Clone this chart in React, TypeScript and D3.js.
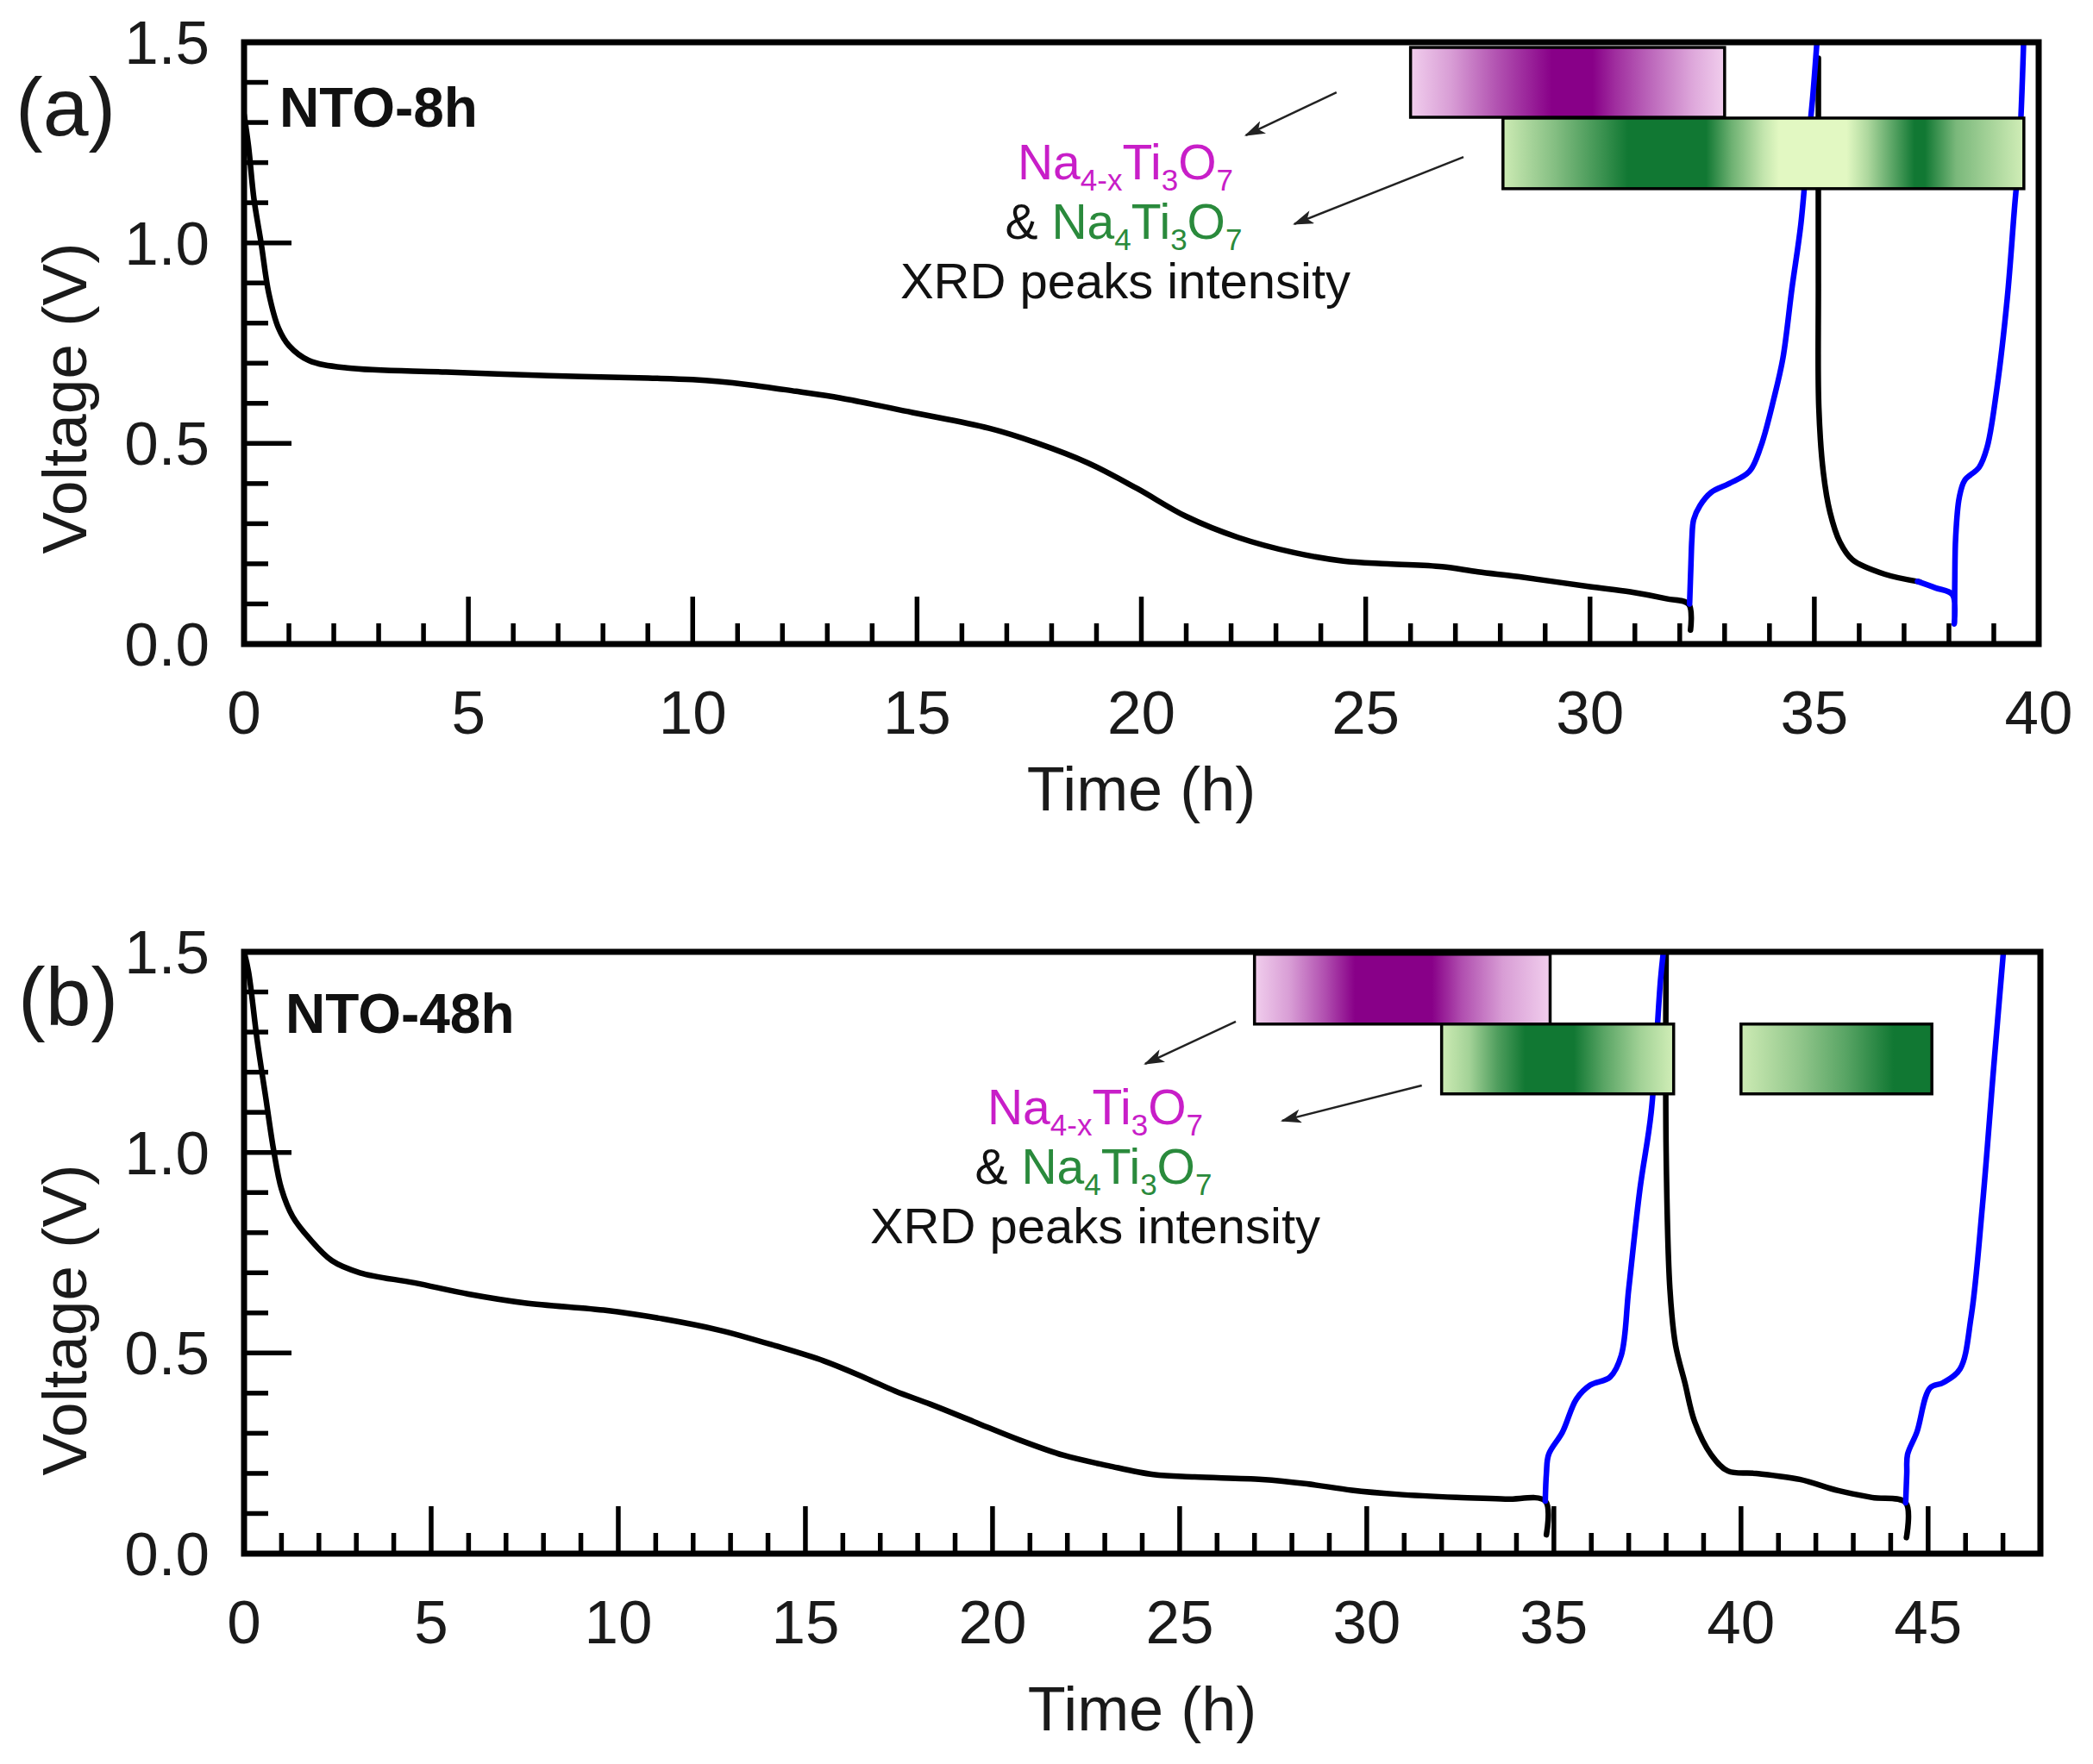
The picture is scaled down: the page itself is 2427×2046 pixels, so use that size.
import React from 'react';
import * as d3 from 'd3';

type Pt = [number, number];

// ---------- Panel (a) NTO-8h : time (h), voltage (V) ----------
const a_discharge1: Pt[] = [
  [0, 1.32], [0.1, 1.24], [0.22, 1.11], [0.38, 1.0], [0.55, 0.875], [0.77, 0.787], [1.0, 0.744],
  [1.44, 0.707], [2.3, 0.688], [4.5, 0.678], [6.8, 0.669], [9.0, 0.663], [10.0, 0.659],
  [11.2, 0.647], [12.3, 0.63], [13.3, 0.613], [14.9, 0.577], [16.6, 0.538], [17.7, 0.5],
  [18.8, 0.452], [19.9, 0.388], [21.0, 0.318], [22.15, 0.266], [23.4, 0.228], [24.5, 0.207],
  [25.5, 0.2], [26.7, 0.193], [27.5, 0.18], [28.4, 0.168], [30.0, 0.143], [30.9, 0.13],
  [31.7, 0.113], [32.2, 0.099], [32.24, 0.035],
];
const a_charge1: Pt[] = [
  [32.22, 0.1], [32.25, 0.2], [32.27, 0.26], [32.31, 0.31], [32.45, 0.345], [32.7, 0.378],
  [33.1, 0.4], [33.55, 0.43], [33.8, 0.49], [34.1, 0.613], [34.3, 0.713], [34.5, 0.886],
  [34.7, 1.047], [34.85, 1.234], [34.96, 1.358], [35.07, 1.52],
];
const a_discharge2: Pt[] = [
  [35.09, 1.46], [35.09, 0.9], [35.1, 0.589], [35.2, 0.428], [35.35, 0.328], [35.57, 0.254],
  [35.85, 0.21], [36.57, 0.174], [37.35, 0.155],
];
const a_charge2: Pt[] = [
  [37.3, 0.156], [37.7, 0.14], [38.08, 0.123], [38.12, 0.05], [38.13, 0.15], [38.15, 0.266],
  [38.23, 0.365], [38.35, 0.408], [38.67, 0.44], [38.85, 0.49], [39.07, 0.638], [39.3, 0.862],
  [39.46, 1.085], [39.57, 1.234], [39.67, 1.52],
];

// ---------- Panel (b) NTO-48h ----------
const b_discharge1: Pt[] = [
  [0, 1.5], [0.12, 1.45], [0.35, 1.28], [0.57, 1.143], [0.79, 1.006], [1.0, 0.909], [1.3, 0.84],
  [1.75, 0.785], [2.35, 0.73], [3.1, 0.7], [4.55, 0.675], [6.0, 0.647], [7.5, 0.625],
  [9.7, 0.606], [11.2, 0.585], [12.7, 0.557], [14.2, 0.518], [15.5, 0.48], [16.6, 0.438],
  [17.4, 0.405], [18.35, 0.372], [19.5, 0.329], [20.7, 0.284], [21.9, 0.245], [23.1, 0.219],
  [24.3, 0.197], [25.4, 0.191], [27.2, 0.185], [28.4, 0.174], [29.6, 0.158], [30.8, 0.148],
  [32.4, 0.14], [33.7, 0.136], [34.77, 0.131], [34.8, 0.047],
];
const b_charge1: Pt[] = [
  [34.77, 0.131], [34.8, 0.2], [34.86, 0.247], [35.23, 0.303], [35.6, 0.385], [35.97, 0.42],
  [36.5, 0.44], [36.8, 0.494], [37.0, 0.66], [37.3, 0.909], [37.6, 1.1], [37.85, 1.43], [37.95, 1.52],
];
const b_discharge2: Pt[] = [
  [38.0, 1.52], [38.0, 1.0], [38.1, 0.66], [38.25, 0.52], [38.5, 0.426], [38.76, 0.329],
  [39.2, 0.247], [39.65, 0.206], [40.4, 0.2], [41.57, 0.185], [42.6, 0.157], [43.5, 0.14],
  [44.4, 0.127], [44.42, 0.04],
];
const b_charge2: Pt[] = [
  [44.4, 0.127], [44.43, 0.2], [44.45, 0.247], [44.7, 0.303], [45.05, 0.413], [45.4, 0.426],
  [45.85, 0.46], [46.15, 0.591], [46.45, 0.866], [46.75, 1.21], [47.03, 1.52],
];

// ---------- XRD intensity bars: time spans and intensity profiles [fraction, relative intensity] ----------
const a_purpleSpan: Pt = [26, 33];
const a_purpleProfile: Pt[] = [
  [0, 0.08], [0.13, 0.3], [0.27, 0.62], [0.38, 0.85], [0.45, 1], [0.58, 1], [0.65, 0.8],
  [0.76, 0.55], [0.9, 0.25], [1, 0.08],
];
const a_greenSpan: Pt = [28.06, 39.67];
const a_greenProfile: Pt[] = [
  [0, 0.1], [0.1, 0.45], [0.19, 0.8], [0.24, 1], [0.39, 1], [0.44, 0.55], [0.5, 0.15],
  [0.53, 0], [0.66, 0], [0.7, 0.25], [0.76, 0.75], [0.79, 1], [0.81, 1], [0.87, 0.5], [1, 0.08],
];
const b_purpleSpan: Pt = [27, 34.9];
const b_purpleProfile: Pt[] = [
  [0, 0.08], [0.12, 0.3], [0.24, 0.65], [0.34, 1], [0.6, 1], [0.7, 0.65], [0.84, 0.3], [1, 0.08],
];
const b_green1Span: Pt = [32, 38.2];
const b_green1Profile: Pt[] = [
  [0, 0.1], [0.12, 0.3], [0.24, 0.7], [0.36, 1], [0.57, 1], [0.7, 0.65], [0.86, 0.3], [1, 0.08],
];
const b_green2Span: Pt = [40, 45.1];
const b_green2Profile: Pt[] = [
  [0, 0.1], [0.3, 0.38], [0.55, 0.66], [0.8, 1], [1, 1],
];

// ---------- axis ticks ----------
const yTickLabels = [0, 0.5, 1.0, 1.5];
const yMajor = [0.5, 1.0];
const yMinor = [0.1, 0.2, 0.3, 0.4, 0.6, 0.7, 0.8, 0.9, 1.1, 1.2, 1.3, 1.4];
const xTickLabelsA = [0, 5, 10, 15, 20, 25, 30, 35, 40];
const xTickLabelsB = [0, 5, 10, 15, 20, 25, 30, 35, 40, 45];

const FONT = '"Liberation Sans", Arial, Helvetica, sans-serif';
const MAGENTA = '#c81ec8';
const GREEN = '#2a8a3c';

type Bar = { id: string; span: Pt; profile: Pt[]; row: number; kind: 'purple' | 'green' };

interface PanelProps {
  id: string;
  top: number;
  xMax: number;
  right: number;
  letter: string;
  letterPos: Pt;
  name: string;
  namePos: Pt;
  xTickLabels: number[];
  black: Pt[][];
  blue: Pt[][];
  bars: Bar[];
  rows: Pt[];
  textCenter: Pt;
  arrows: [Pt, Pt][];
  yTitleY: number;
  xTitleY: number;
}

const purpleColor = d3.interpolateRgb('#fae0f6', '#880088');
const greenColor = d3.interpolateRgb('#e2f8c2', '#117833');

function Formula({ x, y, parts, sub }: { x: number; y: number; parts: { t: string; s?: boolean; c: string }[]; sub: number }) {
  let shifted = false;
  return (
    <text x={x} y={y} textAnchor="middle" fontFamily={FONT} fontSize={57}>
      {parts.map((p, i) => {
        let dy = 0;
        if (p.s && !shifted) { dy = 13; shifted = true; }
        else if (!p.s && shifted) { dy = -13; shifted = false; }
        return (
          <tspan key={i} dy={dy} fill={p.c} fontSize={p.s ? sub : 57}>{p.t}</tspan>
        );
      })}
    </text>
  );
}

function Panel(p: PanelProps) {
  const left = 283;
  const bottom = p.top + 698;
  const x = d3.scaleLinear().domain([0, p.xMax]).range([left, p.right]);
  const y = d3.scaleLinear().domain([0, 1.5]).range([bottom, p.top]);
  const line = d3.line<Pt>().x(d => x(d[0])).y(d => y(d[1])).curve(d3.curveCatmullRom.alpha(0.5));
  const xMajor = d3.range(5, p.xMax, 5).filter(v => v < p.xMax);
  const xMinor = d3.range(1, p.xMax).filter(v => v % 5 !== 0);
  const [cx, cy] = p.textCenter;

  return (
    <g>
      <defs>
        <clipPath id={`clip-${p.id}`}>
          <rect x={left} y={p.top} width={p.right - left} height={bottom - p.top} />
        </clipPath>
        {p.bars.map(b => (
          <linearGradient key={b.id} id={b.id} x1="0" x2="1" y1="0" y2="0">
            {b.profile.map(([f, v], i) => (
              <stop key={i} offset={f} stopColor={(b.kind === 'purple' ? purpleColor : greenColor)(v)} />
            ))}
          </linearGradient>
        ))}
      </defs>

      {/* curves */}
      <g clipPath={`url(#clip-${p.id})`} fill="none" strokeLinejoin="round" strokeLinecap="round">
        {p.black.map((s, i) => (
          <path key={'k' + i} d={line(s) || ''} stroke="#000" strokeWidth={6.5} />
        ))}
        {p.blue.map((s, i) => (
          <path key={'b' + i} d={line(s) || ''} stroke="#0000ff" strokeWidth={6.5} />
        ))}
      </g>

      {/* XRD bars */}
      {p.bars.map(b => {
        const [v0, v1] = p.rows[b.row];
        return (
          <rect key={b.id} x={x(b.span[0])} y={y(v1)} width={x(b.span[1]) - x(b.span[0])}
            height={y(v0) - y(v1)} fill={`url(#${b.id})`} stroke="#000" strokeWidth={3.5} />
        );
      })}

      {/* ticks */}
      <g stroke="#000" strokeWidth={5.5}>
        {yMajor.map(v => <line key={'ym' + v} x1={left} x2={left + 55} y1={y(v)} y2={y(v)} />)}
        {yMinor.map(v => <line key={'yn' + v} x1={left} x2={left + 28} y1={y(v)} y2={y(v)} />)}
        {xMajor.map(v => <line key={'xm' + v} x1={x(v)} x2={x(v)} y1={bottom} y2={bottom - 55} />)}
        {xMinor.map(v => <line key={'xn' + v} x1={x(v)} x2={x(v)} y1={bottom} y2={bottom - 24} />)}
      </g>

      {/* frame */}
      <rect x={left} y={p.top} width={p.right - left} height={bottom - p.top} fill="none" stroke="#000" strokeWidth={7} />

      {/* tick labels */}
      <g fontFamily={FONT} fontSize={71} fill="#1a1a1a">
        {yTickLabels.map(v => (
          <text key={'yl' + v} x={243} y={y(v) + 25} textAnchor="end">{d3.format('.1f')(v)}</text>
        ))}
        {p.xTickLabels.map(v => (
          <text key={'xl' + v} x={x(v)} y={bottom + 104} textAnchor="middle">{v}</text>
        ))}
      </g>

      {/* axis titles */}
      <text x={(left + p.right) / 2} y={p.xTitleY} textAnchor="middle" fontFamily={FONT} fontSize={72} fill="#1a1a1a">Time (h)</text>
      <text transform={`translate(100,${p.yTitleY}) rotate(-90)`} textAnchor="middle" fontFamily={FONT} fontSize={73} fill="#1a1a1a">Voltage (V)</text>

      {/* panel letter & sample name */}
      <text x={p.letterPos[0]} y={p.letterPos[1]} fontFamily={FONT} fontSize={95} fill="#1a1a1a">{p.letter}</text>
      <text x={p.namePos[0]} y={p.namePos[1]} fontFamily={FONT} fontSize={64} fontWeight="bold" fill="#111">{p.name}</text>

      {/* annotation */}
      <Formula x={cx} y={cy} sub={35} parts={[
        { t: 'Na', c: MAGENTA }, { t: '4-x', s: true, c: MAGENTA }, { t: 'Ti', c: MAGENTA },
        { t: '3', s: true, c: MAGENTA }, { t: 'O', c: MAGENTA }, { t: '7', s: true, c: MAGENTA },
      ]} />
      <Formula x={cx - 2} y={cy + 69} sub={35} parts={[
        { t: '& ', c: '#111' }, { t: 'Na', c: GREEN }, { t: '4', s: true, c: GREEN }, { t: 'Ti', c: GREEN },
        { t: '3', s: true, c: GREEN }, { t: 'O', c: GREEN }, { t: '7', s: true, c: GREEN },
      ]} />
      <text x={cx} y={cy + 138} textAnchor="middle" fontFamily={FONT} fontSize={58} fill="#111">XRD peaks intensity</text>

      {p.arrows.map(([from, to], i) => (
        <line key={'ar' + i} x1={x(from[0])} y1={y(from[1])} x2={x(to[0])} y2={y(to[1])}
          stroke="#222" strokeWidth={2.5} markerEnd="url(#arrowHead)" />
      ))}
    </g>
  );
}

export default function App() {
  return (
    <svg width={2427} height={2046} viewBox="0 0 2427 2046"
      style={{ position: 'absolute', left: 0, top: 0, display: 'block', background: '#fff' }}>
      <defs>
        <marker id="arrowHead" viewBox="0 0 24 16" refX="22" refY="8" markerWidth={24} markerHeight={16}
          markerUnits="userSpaceOnUse" orient="auto">
          <path d="M0,0 L24,8 L0,16 L6,8 Z" fill="#222" />
        </marker>
      </defs>
      <rect width={2427} height={2046} fill="#fff" />
      <Panel
        id="a" top={49} xMax={40} right={2364} letter="(a)" letterPos={[18, 157]}
        name="NTO-8h" namePos={[324, 147]} xTickLabels={xTickLabelsA}
        black={[a_discharge1, a_discharge2]} blue={[a_charge1, a_charge2]}
        bars={[
          { id: 'ga-p', span: a_purpleSpan, profile: a_purpleProfile, row: 0, kind: 'purple' },
          { id: 'ga-g', span: a_greenSpan, profile: a_greenProfile, row: 1, kind: 'green' },
        ]}
        rows={[[1.313, 1.487], [1.135, 1.311]]}
        textCenter={[1305, 208]}
        arrows={[[[24.35, 1.375], [22.33, 1.268]], [[27.18, 1.214], [23.41, 1.047]]]}
        yTitleY={462} xTitleY={940}
      />
      <Panel
        id="b" top={1104} xMax={48} right={2366} letter="(b)" letterPos={[21, 1189]}
        name="NTO-48h" namePos={[331, 1198]} xTickLabels={xTickLabelsB}
        black={[b_discharge1, b_discharge2]} blue={[b_charge1, b_charge2]}
        bars={[
          { id: 'gb-p', span: b_purpleSpan, profile: b_purpleProfile, row: 0, kind: 'purple' },
          { id: 'gb-g1', span: b_green1Span, profile: b_green1Profile, row: 1, kind: 'green' },
          { id: 'gb-g2', span: b_green2Span, profile: b_green2Profile, row: 1, kind: 'green' },
        ]}
        rows={[[1.32, 1.494], [1.146, 1.32]]}
        textCenter={[1270, 1304]}
        arrows={[[[26.5, 1.326], [24.08, 1.221]], [[31.47, 1.167], [27.74, 1.079]]]}
        yTitleY={1531} xTitleY={2007}
      />
    </svg>
  );
}
